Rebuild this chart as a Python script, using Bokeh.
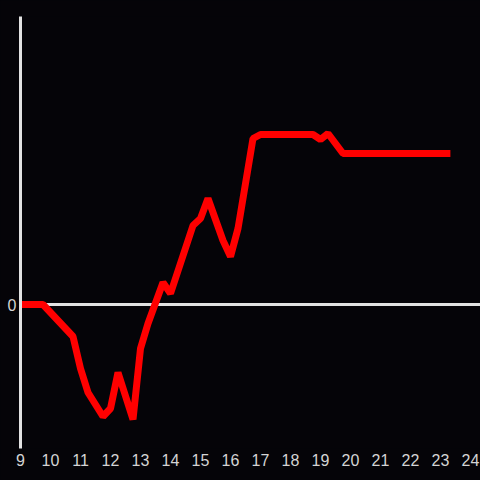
from bokeh.plotting import figure
from bokeh.models import Span, FixedTicker, Range1d
from bokeh.embed import file_html
from bokeh.resources import INLINE

# Data (hour of day vs. value)
hours = [9.0, 9.75, 10.75, 11.0, 11.25, 11.75, 12.0, 12.25, 12.75, 13.0, 13.25,
         13.75, 14.0, 14.75, 15.0, 15.25, 15.75, 16.0, 16.25, 16.75, 17.0,
         18.75, 19.0, 19.25, 19.75, 23.33]
values = [0.0, 0.0, -3.2, -6.4, -8.8, -11.2, -10.4, -6.8, -11.5, -4.4, -1.9,
          2.2, 1.1, 7.9, 8.6, 10.6, 6.4, 4.8, 7.6, 16.6, 17.0,
          17.0, 16.5, 17.1, 15.1, 15.1]
x_ticks = list(range(9, 25))
y_ticks = [0]

BG = "#050408"
FG = "#e2e2e2"

p = figure(width=480, height=480, output_backend="svg", toolbar_location=None,
           x_range=Range1d(9, 9 + 460 / 30), y_range=Range1d(-14.4, 28.8),
           min_border_left=20, min_border_right=0, min_border_top=16,
           min_border_bottom=32, background_fill_color=BG,
           border_fill_color=BG, outline_line_color=None,
           styles={"background-color": BG})

p.xgrid.visible = False
p.ygrid.visible = False

p.xaxis.ticker = FixedTicker(ticks=x_ticks)
p.xaxis.axis_line_color = None
p.xaxis.major_tick_line_color = None
p.xaxis.minor_tick_line_color = None
p.xaxis.major_tick_out = 0
p.xaxis.major_tick_in = 0
p.xaxis.minor_tick_out = 0
p.xaxis.major_label_standoff = 5
p.xaxis.major_label_text_color = "#d4d4d4"
p.xaxis.major_label_text_font = "Liberation Sans"
p.xaxis.major_label_text_font_size = "16px"

p.yaxis.ticker = FixedTicker(ticks=y_ticks)
p.yaxis.axis_line_color = FG
p.yaxis.axis_line_width = 3
p.yaxis.major_tick_line_color = None
p.yaxis.minor_tick_line_color = None
p.yaxis.major_tick_out = 0
p.yaxis.major_tick_in = 0
p.yaxis.minor_tick_out = 0
p.yaxis.major_label_standoff = 4
p.yaxis.major_label_text_color = "#d4d4d4"
p.yaxis.major_label_text_font = "Liberation Sans"
p.yaxis.major_label_text_font_size = "16px"

zero = Span(location=0, dimension="width", line_color=FG, line_width=3,
            level="underlay")
p.add_layout(zero)

p.line(hours, values, line_color="#ff0000", line_width=7, line_join="bevel")

html = file_html(p, INLINE)
html = html.replace("<body>", '<body style="margin:0;background:%s">' % BG, 1)
open("out.html", "w").write(html)
